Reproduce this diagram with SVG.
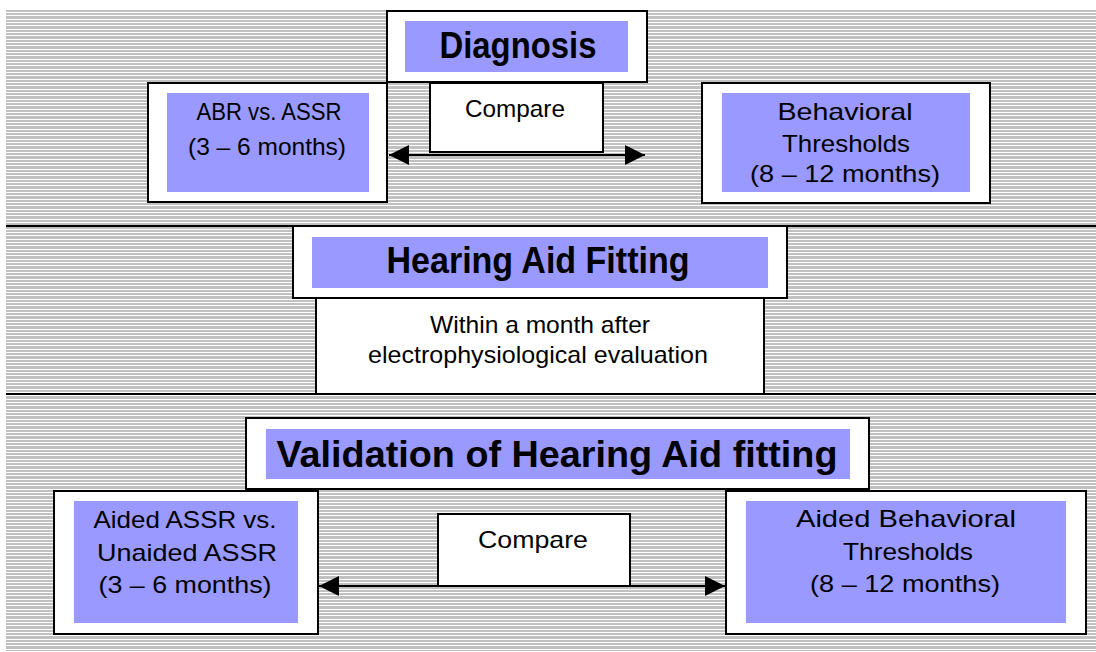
<svg xmlns="http://www.w3.org/2000/svg" width="1096" height="652" viewBox="0 0 1096 652">
<style>
.box{fill:#ffffff;stroke:#000000;stroke-width:2}
.blue{fill:#9999ff}
.t{font-family:"Liberation Sans",Arial,sans-serif;font-size:24px;fill:#000;text-anchor:middle}
.h{font-family:"Liberation Sans",Arial,sans-serif;font-size:36px;font-weight:bold;fill:#000;text-anchor:middle}
.div{stroke:#000;stroke-width:2}
.con{stroke:#000;stroke-width:2;fill:none}
</style>
<defs>
<pattern id="stripes" patternUnits="userSpaceOnUse" x="0" y="10" width="10" height="10">
<rect x="0" y="0" width="10" height="10" fill="#ffffff"/>
<rect x="0" y="0" width="10" height="2" fill="#c0c0c0"/>
<rect x="0" y="3" width="10" height="2" fill="#c0c0c0"/>
<rect x="0" y="6" width="10" height="3" fill="#c0c0c0"/>
</pattern>
<marker id="ah" viewBox="0 0 20 20" refX="20" refY="10" markerWidth="20" markerHeight="20" markerUnits="userSpaceOnUse" orient="auto-start-reverse">
<path d="M0,0 L20,10 L0,20 Z" fill="#000"/>
</marker>
</defs>
<rect x="0" y="0" width="1096" height="652" fill="#ffffff"/>
<rect x="6" y="10" width="1090" height="641" fill="url(#stripes)" shape-rendering="crispEdges"/>
<line class="div" x1="6" y1="226" x2="1096" y2="226"/>
<line class="div" x1="6" y1="394" x2="1096" y2="394"/>

<g id="connectors">
<line class="con" x1="389" y1="155" x2="645" y2="155" marker-start="url(#ah)" marker-end="url(#ah)"/>
<line class="con" x1="319" y1="586" x2="725" y2="586" marker-start="url(#ah)" marker-end="url(#ah)"/>
</g>

<g id="diagnosis">
<rect class="box" x="387" y="11" width="260" height="71"/>
<rect class="blue" x="405" y="21" width="223" height="51"/>
<text class="h" x="518" y="58" textLength="157" lengthAdjust="spacingAndGlyphs">Diagnosis</text>
</g>
<g id="abr-assr">
<rect class="box" x="148" y="83" width="239" height="119"/>
<rect class="blue" x="167" y="93" width="202" height="99"/>
<text class="t" x="269" y="120" textLength="145" lengthAdjust="spacingAndGlyphs">ABR vs. ASSR</text>
<text class="t" x="267" y="155" textLength="158" lengthAdjust="spacingAndGlyphs">(3 – 6 months)</text>
</g>
<g id="compare-top">
<rect class="box" x="430" y="83" width="173" height="69"/>
<text class="t" x="515" y="117" textLength="100" lengthAdjust="spacingAndGlyphs">Compare</text>
</g>
<g id="behavioral">
<rect class="box" x="702" y="83" width="288" height="120"/>
<rect class="blue" x="722" y="93" width="248" height="99"/>
<text class="t" x="845" y="120" textLength="135" lengthAdjust="spacingAndGlyphs">Behavioral</text>
<text class="t" x="846" y="152" textLength="128" lengthAdjust="spacingAndGlyphs">Thresholds</text>
<text class="t" x="845" y="182" textLength="190" lengthAdjust="spacingAndGlyphs">(8 – 12 months)</text>
</g>

<g id="hearing-aid-fitting">
<rect class="box" x="293" y="226" width="494" height="72"/>
<rect class="blue" x="312" y="237" width="456" height="51"/>
<text class="h" x="538" y="273" textLength="303" lengthAdjust="spacingAndGlyphs">Hearing Aid Fitting</text>
</g>
<g id="fitting-time">
<rect class="box" x="316" y="298" width="448" height="96"/>
<text class="t" x="540" y="333" textLength="220" lengthAdjust="spacingAndGlyphs">Within a month after</text>
<text class="t" x="538" y="363" textLength="340" lengthAdjust="spacingAndGlyphs">electrophysiological evaluation</text>
</g>

<g id="validation">
<rect class="box" x="246" y="418" width="623" height="71"/>
<rect class="blue" x="266" y="429" width="584" height="50"/>
<text class="h" x="557" y="467" textLength="561" lengthAdjust="spacingAndGlyphs">Validation of Hearing Aid fitting</text>
</g>
<g id="aided-assr">
<rect class="box" x="54" y="491" width="264" height="143"/>
<rect class="blue" x="74" y="501" width="224" height="122"/>
<text class="t" x="185" y="528" textLength="183" lengthAdjust="spacingAndGlyphs">Aided ASSR vs.</text>
<text class="t" x="187" y="561" textLength="180" lengthAdjust="spacingAndGlyphs">Unaided ASSR</text>
<text class="t" x="185" y="593" textLength="173" lengthAdjust="spacingAndGlyphs">(3 – 6 months)</text>
</g>
<g id="compare-bottom">
<rect class="box" x="438" y="514" width="192" height="72"/>
<text class="t" x="533" y="548" textLength="110" lengthAdjust="spacingAndGlyphs">Compare</text>
</g>
<g id="aided-behavioral">
<rect class="box" x="726" y="491" width="360" height="143"/>
<rect class="blue" x="746" y="501" width="320" height="122"/>
<text class="t" x="906" y="527" textLength="220" lengthAdjust="spacingAndGlyphs">Aided Behavioral</text>
<text class="t" x="908" y="560" textLength="130" lengthAdjust="spacingAndGlyphs">Thresholds</text>
<text class="t" x="905" y="592" textLength="190" lengthAdjust="spacingAndGlyphs">(8 – 12 months)</text>
</g>
</svg>
